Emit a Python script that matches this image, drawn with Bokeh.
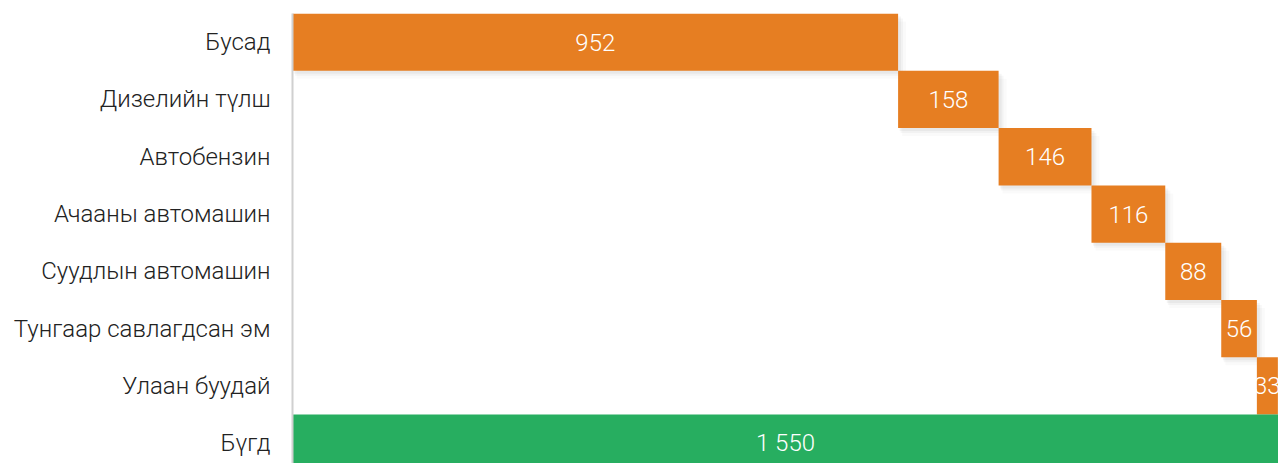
from bokeh.plotting import figure
from bokeh.models import ColumnDataSource, FixedTicker, Range1d
from bokeh.core.properties import value
from bokeh.embed import file_html
from bokeh.resources import INLINE

categories = ["Бусад", "Дизелийн түлш", "Автобензин", "Ачааны автомашин",
              "Суудлын автомашин", "Тунгаар савлагдсан эм", "Улаан буудай", "Бүгд"]
values = [952, 158, 146, 116, 88, 56, 33, 1550]
total_flags = [False, False, False, False, False, False, False, True]

ORANGE = "#E67E22"
GREEN = "#27AE60"
FONT = "Roboto Light"

n = len(categories)
ys = [n - 1 - i for i in range(n)]
lefts, rights, colors, labels, xs_mid = [], [], [], [], []
cum = 0
for v, is_total in zip(values, total_flags):
    if is_total:
        l, r = 0, v
        colors.append(GREEN)
    else:
        l, r = cum, cum + v
        cum += v
        colors.append(ORANGE)
    lefts.append(l)
    rights.append(r)
    xs_mid.append((l + r) / 2)
    labels.append(f"{v:,}".replace(",", " "))

src = ColumnDataSource(dict(y=ys, left=lefts, right=rights, color=colors,
                            label=labels, xm=xs_mid,
                            top=[y + 0.5 for y in ys], bottom=[y - 0.5 for y in ys]))

W, H = 1278, 463
left_border = 292
row_px = 57.3
top_border = 13
plot_h = H - top_border
y_top = n - 0.5
y_bot = y_top - plot_h / row_px

p = figure(width=W, height=H, output_backend="svg", toolbar_location=None,
           x_range=Range1d(0, 1550), y_range=Range1d(y_bot, y_top),
           min_border_left=left_border, min_border_right=0, min_border_top=top_border,
           min_border_bottom=0)
p.outline_line_color = None
p.xgrid.visible = False
p.ygrid.visible = False
p.xaxis.visible = False

# soft shadow
xpx = 1550 / (W - left_border)
ypx = 1 / row_px
for k, a in [(8, 0.02), (5, 0.03), (3, 0.04)]:
    p.quad(left=[l + k * xpx * 0.5 for l in lefts], right=[r + k * xpx for r in rights],
           top=[t - k * ypx for t in src.data["top"]], bottom=[b - k * ypx for b in src.data["bottom"]],
           fill_color="#000000", fill_alpha=a, line_color=None)

p.quad(left="left", right="right", top="top", bottom="bottom", fill_color="color",
       line_color=None, source=src)
p.text(x="xm", y="y", text="label", source=src, text_align="center",
       text_baseline="middle", text_color="white", text_font=value(FONT),
       text_font_size="24px")

ax = p.yaxis[0]
ax.ticker = FixedTicker(ticks=ys)
ax.major_label_overrides = {y: c for y, c in zip(ys, categories)}
ax.major_tick_line_color = None
ax.minor_tick_line_color = None
ax.major_tick_out = 0
ax.major_tick_in = 0
ax.major_label_standoff = 22
ax.major_label_text_font = FONT
ax.major_label_text_font_size = "24px"
ax.major_label_text_color = "#222222"
ax.axis_line_color = "#d0d0d0"
ax.axis_line_width = 2

open("out.html", "w").write(file_html(p, INLINE))
